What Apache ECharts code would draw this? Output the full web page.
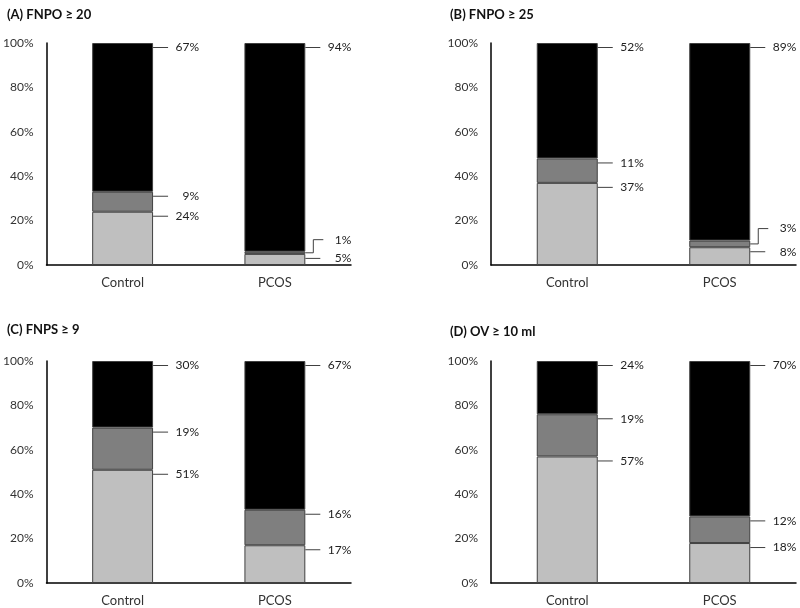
<!DOCTYPE html>
<html>
<head>
<meta charset="utf-8">
<script src="https://cdn.jsdelivr.net/npm/echarts@6/dist/echarts.min.js"></script>
<style>html,body{margin:0;padding:0;background:#fff}#c{width:800px;height:608px}</style>
</head>
<body>
<div id="c"></div>
<script>
const categories = ['Control', 'PCOS'];
const panelTitles = ['(A) FNPO \u2265 20', '(B) FNPO \u2265 25', '(C) FNPS \u2265 9', '(D) OV \u2265 10 ml'];
// per panel: [Control, PCOS]
const lowValues  = [[24, 5], [37, 8], [51, 17], [57, 18]];   // light grey (bottom)
const midValues  = [[9, 1],  [11, 3], [19, 16], [19, 12]];   // mid grey
const highValues = [[67, 94], [52, 89], [30, 67], [24, 70]]; // black (top)
const yTicks = [0, 20, 40, 60, 80, 100];

const FONT = 'Lato, "Open Sans", sans-serif';
const segColors = ['#bfbfbf', '#7f7f7f', '#000000'];
const gridBoxes = [
  {left: 46, top: 43, width: 305, height: 222},
  {left: 491, top: 43, width: 305, height: 222},
  {left: 46, top: 361, width: 305, height: 222},
  {left: 491, top: 361, width: 305, height: 222}
];
const titlePos = [{left: 2, top: 3}, {left: 445, top: 3}, {left: 2, top: 318}, {left: 445, top: 320}];

const chart = echarts.init(document.getElementById('c'), null, {renderer: 'canvas'});

const grids = [], xAxes = [], yAxes = [], series = [], titles = [];
for (let p = 0; p < 4; p++) {
  grids.push(Object.assign({containLabel: false}, gridBoxes[p]));
  titles.push({
    text: panelTitles[p], left: titlePos[p].left, top: titlePos[p].top,
    textStyle: {fontFamily: FONT, fontSize: 13, fontWeight: 'bold', color: '#111'}
  });
  xAxes.push({
    type: 'category', gridIndex: p, data: categories,
    axisLine: {show: true, lineStyle: {color: '#000', width: 1.5}},
    axisTick: {show: false},
    axisLabel: {fontFamily: FONT, fontSize: 13, color: '#333', margin: 11}
  });
  yAxes.push({
    type: 'value', gridIndex: p, min: yTicks[0], max: yTicks[yTicks.length - 1], interval: yTicks[1] - yTicks[0],
    axisLine: {show: true, lineStyle: {color: '#000', width: 1.5}},
    axisTick: {show: false}, splitLine: {show: false},
    axisLabel: {fontFamily: FONT, fontSize: 12, color: '#333', margin: 13, formatter: '{value}%'}
  });
  const segs = [lowValues[p], midValues[p], highValues[p]];
  segs.forEach((vals, k) => {
    series.push({
      type: 'bar', xAxisIndex: p, yAxisIndex: p, stack: 'panel' + p,
      barWidth: '40%', data: vals, silent: true,
      itemStyle: {color: segColors[k], borderColor: '#404040', borderWidth: 1}
    });
  });
  // label items: [cat, bottom, top, value, belowBottom]
  const labelData = [];
  for (let c = 0; c < categories.length; c++) {
    let bottom = 0, prevBottom = -1;
    for (let k = 0; k < 3; k++) {
      const v = segs[k][c];
      labelData.push([c, bottom, bottom + v, v, prevBottom]);
      prevBottom = bottom;
      bottom += v;
    }
  }
  series.push({
    type: 'custom', xAxisIndex: p, yAxisIndex: p, silent: true, clip: false, z: 10,
    data: labelData,
    renderItem: function (params, api) {
      const c = api.value(0), b = api.value(1), t = api.value(2), v = api.value(3), bb = api.value(4);
      const half = api.size([1, 0])[0] * 0.2;
      const right = api.coord([c, t])[0] + half;
      const lineY = function (top, bot) {
        const yt = api.coord([c, top])[1], yb = api.coord([c, bot])[1];
        return Math.min(yt + 4.5, (yt + yb) / 2);
      };
      const y = lineY(t, b);
      let points, labelY;
      if (bb >= 0 && (lineY(b, bb) - y) < 14) {
        labelY = api.coord([c, t])[1] - 12;
        points = [[right, y], [right + 8, y], [right + 8, labelY], [right + 18, labelY]];
      } else {
        labelY = y;
        points = [[right, y], [right + 15, y]];
      }
      return {
        type: 'group',
        children: [
          {type: 'polyline', shape: {points: points}, style: {stroke: '#404040', lineWidth: 1, fill: null}},
          {type: 'text', style: {text: v + '%', x: right + 46, y: labelY, align: 'right', verticalAlign: 'middle',
            fill: '#222', fontFamily: FONT, fontSize: 12}}
        ]
      };
    }
  });
}

chart.setOption({
  animation: false,
  backgroundColor: '#fff',
  title: titles,
  grid: grids,
  xAxis: xAxes,
  yAxis: yAxes,
  series: series
});
</script>
</body>
</html>
